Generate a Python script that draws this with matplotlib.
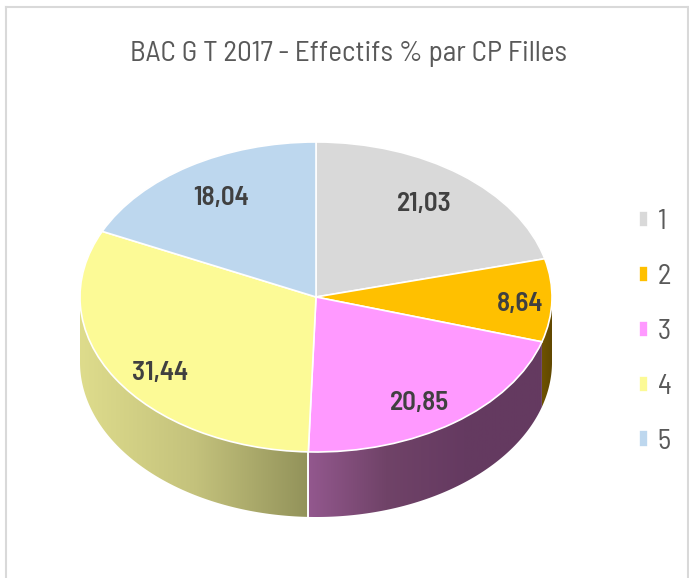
import numpy as np
import matplotlib.pyplot as plt
from matplotlib.colors import LinearSegmentedColormap
from matplotlib.lines import Line2D
from matplotlib.patches import Polygon

plt.rcParams['font.family'] = ['Barlow Semi Condensed', 'Lato', 'DejaVu Sans']

# -------------- data ------------------------------------------------------
categories = ['1', '2', '3', '4', '5']
values = [21.03, 8.64, 20.85, 31.44, 18.04]
value_labels = ['21,03', '8,64', '20,85', '31,44', '18,04']
title = 'BAC G T 2017 - Effectifs % par CP Filles'

top_colors = ['#D9D9D9', '#FFC000', '#FF99FF', '#FCFA96', '#BDD7EE']
# side wall shading, left to right
side_colors = {
    1: ['#6E5200', '#5F4700'],
    2: ['#93588E', '#704368', '#653A61', '#643A60'],
    3: ['#DEDC8C', '#C4C27C', '#92925A'],
}

# -------------- layout (pixels of the 689x578 picture) --------------------
W, H = 689, 578
cx, cy = 316, 297
rx, ry = 236, 155
depth = 65 / ry
label_px = [(424, 204), (520, 304), (419, 403), (160, 373), (221, 198)]

fig = plt.figure(figsize=(W / 100, H / 100), dpi=100)
ax = fig.add_axes([0, 0, 1, 1])

wedges, _ = ax.pie(values, colors=top_colors, startangle=90, counterclock=False,
                   wedgeprops=dict(edgecolor='white', linewidth=1.2, zorder=5))

# the pie stays elliptical because the axes are not forced to equal scale
ax.set_aspect('auto')
xlim = (-cx / rx, (W - cx) / rx)
ylim = (-(H - cy) / ry, cy / ry)

# -------------- side wall -------------------------------------------------
for i, w in enumerate(wedges):
    if i not in side_colors:
        continue
    t = np.radians(np.linspace(w.theta1, w.theta2, 300))
    t = t[np.sin(t) < 0]
    x, y = np.cos(t), np.sin(t)
    poly = np.vstack([np.column_stack([x, y]),
                      np.column_stack([x[::-1], y[::-1] - depth])])
    patch = Polygon(poly, closed=True, facecolor='none', edgecolor='none')
    ax.add_patch(patch)
    cmap = LinearSegmentedColormap.from_list(f'side{i}', side_colors[i])
    grad = np.linspace(0, 1, 256).reshape(1, -1)
    im = ax.imshow(grad, cmap=cmap, aspect='auto', zorder=2,
                   extent=[x.min(), x.max(), (y - depth).min(), y.max()])
    im.set_clip_path(patch)
    # white seam on the slice edge
    for k in (0, -1):
        if abs(np.cos(t[k])) < 0.5:
            ax.plot([x[k], x[k]], [y[k], y[k] - depth], color='white', lw=1.2, zorder=3)

ax.set_xlim(xlim)
ax.set_ylim(ylim)
ax.axis('off')


def px(x, y):
    return x / W, 1 - y / H


# -------------- texts -----------------------------------------------------
fig.text(*px(348, 54), title, ha='center', va='center', fontsize=21, color='#595959')

for lab, (lx, ly) in zip(value_labels, label_px):
    fig.text(*px(lx, ly), lab, ha='center', va='center', fontsize=19.5,
             fontweight=600, color='#404040', zorder=10)

leg = fig.legend(wedges, categories, loc='center left', bbox_to_anchor=px(639, 332),
                 frameon=False, fontsize=20.5, labelcolor='#595959',
                 handlelength=0.32, handleheight=0.5, handletextpad=0.34,
                 labelspacing=1.01, borderpad=0, borderaxespad=0)

# -------------- thin frame of the original chart --------------------------
frame = [[(5.5, 578), (5.5, 6.5)], [(5.5, 6.5), (689, 6.5)], [(687.5, 6.5), (687.5, 578)]]
for seg in frame:
    (x0, y0), (x1, y1) = px(*seg[0]), px(*seg[1])
    fig.add_artist(Line2D([x0, x1], [y0, y1], color='#D9D9D9', lw=1.5))

fig.savefig('out.png', dpi=100, facecolor='white')
